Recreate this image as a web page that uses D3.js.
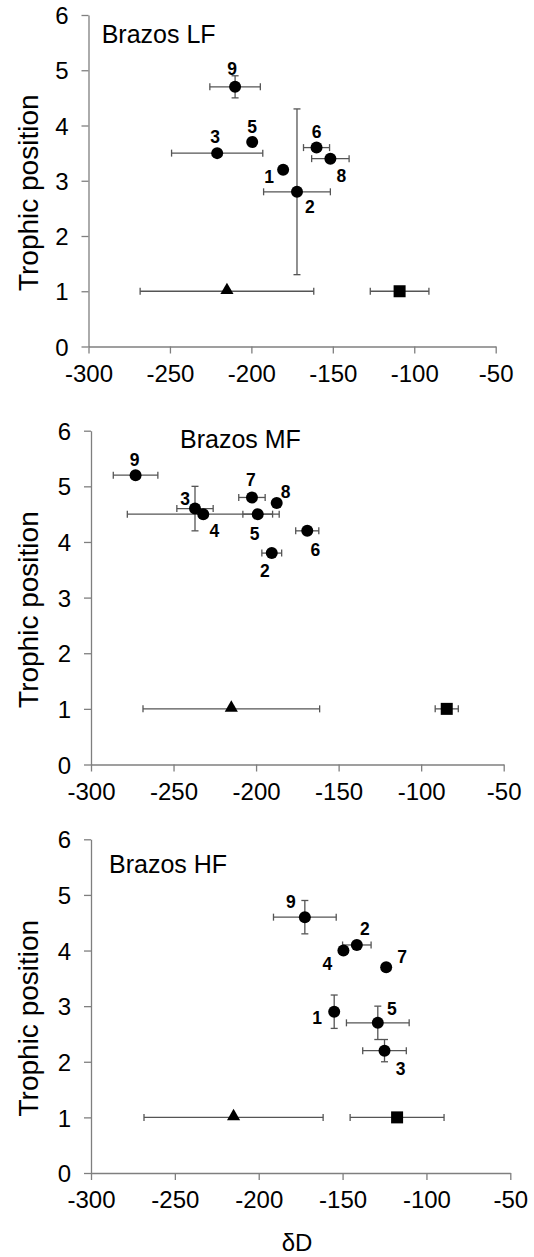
<!DOCTYPE html>
<html><head><meta charset="utf-8">
<script src="https://cdn.jsdelivr.net/npm/d3@7"></script>
<style>body{margin:0;background:#fff}svg{display:block}text{font-family:"Liberation Sans",Arial,sans-serif}</style>
</head><body>
<script>
// ---- data ----
const panelTitles = ["Brazos LF", "Brazos MF", "Brazos HF"];
const xTicks = [-300, -250, -200, -150, -100, -50];
const yTicks = [0, 1, 2, 3, 4, 5, 6];
const xTitle = "δD";
const yTitle = "Trophic position";

const lfLabels = ["9", "3", "5", "6", "8", "1", "2"];
const lfX = [-210, -221, -199.5, -160, -151.5, -180.5, -172];
const lfY = [4.7, 3.5, 3.7, 3.6, 3.4, 3.2, 2.8];
const lfXErr = [15.5, 28, 0, 8, 11.5, 0, 20.5];
const lfYErr = [0.2, 0, 0, 0, 0, 0, 1.5];
const lfSrcX = [-215, -109];      // triangle, square
const lfSrcXErr = [53.3, 18];

const mfLabels = ["9", "3", "4", "7", "5", "8", "6", "2"];
const mfX = [-273, -237, -232, -202.5, -199, -187.5, -169, -190.5];
const mfY = [5.2, 4.6, 4.5, 4.8, 4.5, 4.7, 4.2, 3.8];
const mfXErr = [13.5, 11, 46, 8, 9, 0, 7, 6];
const mfYErr = [0, 0.4, 0, 0, 0, 0, 0, 0];
const mfSrcX = [-215, -84.5];
const mfSrcXErr = [53.5, 7];

const hfLabels = ["9", "2", "4", "7", "1", "5", "3"];
const hfX = [-172.5, -141.5, -149.5, -124, -155, -129, -125];
const hfY = [4.6, 4.1, 4.0, 3.7, 2.9, 2.7, 2.2];
const hfXErr = [18.7, 8.5, 0, 0, 0, 18.7, 13];
const hfYErr = [0.3, 0, 0, 0, 0.3, 0.3, 0.2];
const hfSrcX = [-215, -117.5];
const hfSrcXErr = [53.4, 28];
const srcY = 1;

// ---- layout (pixels) ----
const boxes = [
  {l: 88.5, r: 495.7, t: 15, b: 346.5, titleX: 101.7, titleY: 43.3},
  {l: 91, r: 503.7, t: 430.7, b: 764.5, titleX: 180, titleY: 448.3},
  {l: 91, r: 510.3, t: 839.3, b: 1173, titleX: 109, titleY: 873.3}
];
const labelOffsets = [
  [[-3,-12],[-2,-10],[0,-9.5],[0,-9.5],[11,23],[-14,13],[13,21]],
  [[-1,-9],[-10,-4],[11,23],[-1,-11],[-3,26],[9,-5],[8,25],[-7,24]],
  [[-14,-9],[8,-10],[-16,19],[16,-4],[-17,12],[14,-8],[16,24]]
];

const panelData = [
  {labels: lfLabels, x: lfX, y: lfY, xe: lfXErr, ye: lfYErr, sx: lfSrcX, sxe: lfSrcXErr},
  {labels: mfLabels, x: mfX, y: mfY, xe: mfXErr, ye: mfYErr, sx: mfSrcX, sxe: mfSrcXErr},
  {labels: hfLabels, x: hfX, y: hfY, xe: hfXErr, ye: hfYErr, sx: hfSrcX, sxe: hfSrcXErr}
];

const W = 534, H = 1257;
const svg = d3.select("body").append("svg").attr("width", W).attr("height", H);
const axisColor = "#7f7f7f", errColor = "#555", cap = 3.5;

panelData.forEach((d, i) => {
  const bx = boxes[i];
  const x = d3.scaleLinear().domain([-300, -50]).range([bx.l, bx.r]);
  const y = d3.scaleLinear().domain([0, 6]).range([bx.b, bx.t]);
  const g = svg.append("g");

  // axes
  const ya = g.append("g").attr("transform", `translate(${bx.l},0)`)
    .call(d3.axisLeft(y).tickValues(yTicks).tickSize(7).tickSizeOuter(0).tickPadding(13).tickFormat(d3.format("d")));
  const xa = g.append("g").attr("transform", `translate(0,${bx.b})`)
    .call(d3.axisBottom(x).tickValues(xTicks).tickSize(7).tickSizeOuter(0).tickPadding(11).tickFormat(d => d));
  [ya, xa].forEach(a => {
    a.select(".domain").attr("stroke", axisColor).attr("stroke-width", 1.3);
    a.selectAll(".tick line").attr("stroke", axisColor).attr("stroke-width", 1.3);
    a.selectAll(".tick text").attr("fill", "#000").style("font-size", "24px").style("font-family", '"Liberation Sans", Arial, sans-serif');
  });
  xa.selectAll(".tick text").attr("dy", "0.71em");
  ya.selectAll(".tick text").attr("dy", "0.36em");

  // y title
  g.append("text").attr("transform", `translate(38,${(bx.t + bx.b) / 2 + 12}) rotate(-90)`)
    .attr("text-anchor", "middle").style("font-size", "28px").text(yTitle);
  // panel title
  g.append("text").attr("x", bx.titleX).attr("y", bx.titleY).style("font-size", "25px").text(panelTitles[i]);

  const idx = d3.range(d.labels.length);
  const eg = g.append("g").attr("stroke", errColor).attr("stroke-width", 1.3).attr("fill", "none");
  // horizontal error bars
  idx.filter(j => d.xe[j] > 0).forEach(j => {
    const x0 = x(d.x[j] - d.xe[j]), x1 = x(d.x[j] + d.xe[j]), yy = y(d.y[j]);
    eg.append("line").attr("x1", x0).attr("x2", x1).attr("y1", yy).attr("y2", yy);
    eg.append("line").attr("x1", x0).attr("x2", x0).attr("y1", yy - cap).attr("y2", yy + cap);
    eg.append("line").attr("x1", x1).attr("x2", x1).attr("y1", yy - cap).attr("y2", yy + cap);
  });
  idx.filter(j => d.ye[j] > 0).forEach(j => {
    const y0 = y(d.y[j] - d.ye[j]), y1 = y(d.y[j] + d.ye[j]), xx = x(d.x[j]);
    eg.append("line").attr("x1", xx).attr("x2", xx).attr("y1", y0).attr("y2", y1);
    eg.append("line").attr("y1", y0).attr("y2", y0).attr("x1", xx - cap).attr("x2", xx + cap);
    eg.append("line").attr("y1", y1).attr("y2", y1).attr("x1", xx - cap).attr("x2", xx + cap);
  });
  // source error bars
  d.sx.forEach((sx, k) => {
    const x0 = x(sx - d.sxe[k]), x1 = x(sx + d.sxe[k]), yy = y(srcY);
    eg.append("line").attr("x1", x0).attr("x2", x1).attr("y1", yy).attr("y2", yy);
    eg.append("line").attr("x1", x0).attr("x2", x0).attr("y1", yy - cap).attr("y2", yy + cap);
    eg.append("line").attr("x1", x1).attr("x2", x1).attr("y1", yy - cap).attr("y2", yy + cap);
  });

  // points
  g.append("g").selectAll("circle").data(idx).join("circle")
    .attr("cx", j => x(d.x[j])).attr("cy", j => y(d.y[j])).attr("r", 6).attr("fill", "#000");
  // triangle
  g.append("path").attr("d", d3.symbol(d3.symbolTriangle, 75)())
    .attr("transform", `translate(${x(d.sx[0])},${y(srcY) - 1})`).attr("fill", "#000");
  // square
  const s = 12;
  g.append("rect").attr("x", x(d.sx[1]) - s / 2).attr("y", y(srcY) - s / 2).attr("width", s).attr("height", s).attr("fill", "#000");

  // labels
  g.append("g").selectAll("text").data(idx).join("text")
    .attr("x", j => x(d.x[j]) + labelOffsets[i][j][0])
    .attr("y", j => y(d.y[j]) + labelOffsets[i][j][1])
    .attr("text-anchor", "middle").style("font-size", "17.5px").style("font-weight", "bold")
    .text(j => d.labels[j]);
});

svg.append("text").attr("x", 297).attr("y", 1251).attr("text-anchor", "middle").style("font-size", "24px").text(xTitle);
</script>
</body></html>
